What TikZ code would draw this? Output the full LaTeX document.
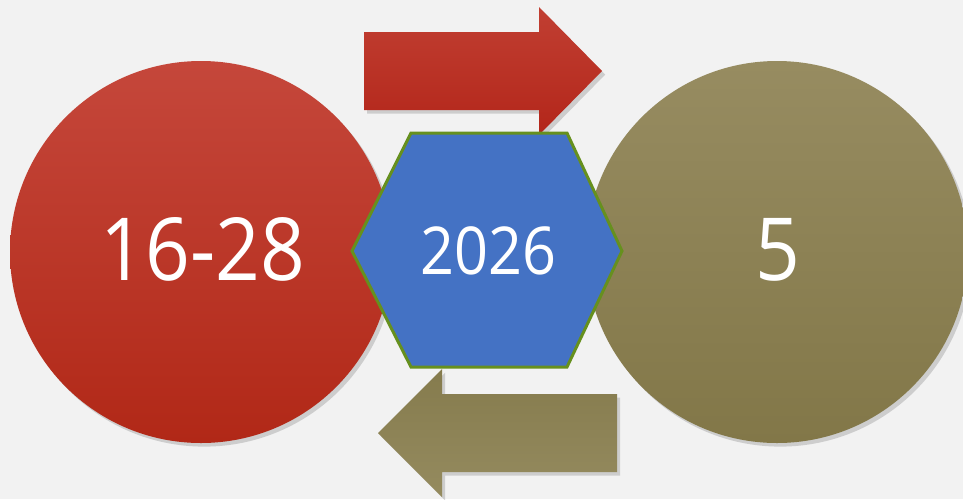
\documentclass[tikz,border=0pt]{standalone}
\usepackage{fontspec}
\setmainfont{Open Sans}[FakeStretch=0.9]
\usetikzlibrary{shadows}
\definecolor{bgcol}{HTML}{F2F2F2}
\definecolor{redtop}{HTML}{C5473B}
\definecolor{redbot}{HTML}{B12817}
\definecolor{rarrtop}{HTML}{C13F32}
\definecolor{rarrbot}{HTML}{B3261A}
\definecolor{oltop}{HTML}{978C61}
\definecolor{olbot}{HTML}{827748}
\definecolor{oarrtop}{HTML}{857B4D}
\definecolor{oarrbot}{HTML}{958B5F}
\definecolor{hexblue}{HTML}{4472C4}
\definecolor{hexline}{HTML}{66901E}
\tikzset{
  softshadow/.style={drop shadow={opacity=0.22,shadow xshift=1.6pt,shadow yshift=-1.8pt,fill=black!70}},
  bigcircle/.style={circle,minimum size=191pt,inner sep=0pt,softshadow},
  bigtext/.style={text=white,font=\fontsize{43.5}{43.5}\selectfont,anchor=base,inner sep=0pt},
  hextext/.style={text=white,font=\fontsize{33}{33}\selectfont,anchor=base,inner sep=0pt},
}
\begin{document}
\begin{tikzpicture}[x=0.5pt,y=-0.5pt]
\fill[bgcol] (0,0) rectangle (963,499);
\useasboundingbox (0,0) rectangle (963,499);
% circles
\node[bigcircle,top color=redtop,bottom color=redbot] (redc) at (201,252) {};
\node[bigcircle,top color=oltop,bottom color=olbot] (olc) at (777,252) {};
% arrows
\path[top color=rarrtop,bottom color=rarrbot,softshadow]
  (364,32) -- (539,32) -- (539,7) -- (602,71) -- (539,135) -- (539,110) -- (364,110) -- cycle;
\path[top color=oarrtop,bottom color=oarrbot,softshadow]
  (617,394) -- (442,394) -- (442,369) -- (378,433) -- (442,497) -- (442,472) -- (617,472) -- cycle;
% hexagon
\filldraw[fill=hexblue,draw=hexline,line width=1.5pt,line join=miter]
  (352,251) -- (411,133) -- (567,133) -- (622,251) -- (567,367) -- (411,367) -- cycle;
% texts
\node[bigtext] (t1) at (203,280) {16-28};
\node[hextext] (t2) at (488,274) {2026};
\node[bigtext] (t3) at (778,280) {5};
\end{tikzpicture}
\end{document}
